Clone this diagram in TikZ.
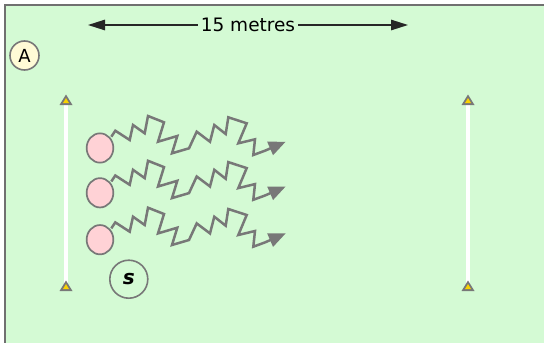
\documentclass[tikz,border=0pt]{standalone}
\usepackage{fontspec}
\setmainfont{DejaVu Sans}
\usetikzlibrary{arrows.meta,shapes.geometric}
\definecolor{field}{RGB}{212,250,212}
\definecolor{frame}{RGB}{112,112,112}
\definecolor{zgray}{RGB}{120,120,120}
\definecolor{pinkball}{RGB}{255,210,214}
\definecolor{cream}{RGB}{255,251,214}
\definecolor{coneyellow}{RGB}{250,210,0}
\tikzset{
  zig/.style={draw=zgray, line width=2.5pt, line join=miter, miter limit=3,
    -{Triangle[length=17pt,width=14pt]}},
  ball/.style={ellipse, draw=zgray, line width=1.7pt, fill=pinkball,
    minimum width=26.7pt, minimum height=29.3pt, inner sep=0pt},
  roundlab/.style={circle, draw=zgray, line width=1.6pt, inner sep=0pt},
  pole/.style={draw=white, line width=4pt},
  dim/.style={draw=black!85, line width=1.3pt,
    -{Triangle[length=17pt,width=10.5pt]}},
  cone/.pic={
    \fill[zgray] (0,-5.5) -- (-6.5,5) -- (6.5,5) -- cycle;
    \fill[coneyellow] (0,-2) -- (-3,3) -- (3,3) -- cycle;
  }
}
\begin{document}
\begin{tikzpicture}[x=1pt,y=-1pt]
\useasboundingbox (0,0) rectangle (544,343);
\fill[white] (0,0) rectangle (544,343);
\begin{scope}
\clip (0,0) rectangle (544,343);
\draw[frame, line width=2pt, fill=field] (5,5) rectangle (560,360);
\end{scope}

% dimension arrow
\node[inner sep=3pt, font=\fontsize{18.5}{20}\selectfont] (len) at (248,25) {15 metres};
\coordinate (ltip) at (88,25);
\coordinate (rtip) at (408,25);
\draw[dim] (len.west) -- (ltip);
\draw[dim] (len.east) -- (rtip);

% label A
\node[roundlab, fill=cream, minimum size=29pt, font=\fontsize{18}{20}\selectfont] (A) at (24.5,55.5) {A};

% poles
\coordinate (l1) at (66,100);
\coordinate (l2) at (66,286);
\coordinate (r1) at (468,100);
\coordinate (r2) at (468,286);
\draw[pole] (l1) -- (l2);
\draw[pole] (r1) -- (r2);
\foreach \c in {l1,l2,r1,r2} \pic at (\c) {cone};

% players
\node[ball] (p1) at (100,148) {};
\node[ball] (p2) at (100,192.8) {};
\node[ball] (p3) at (100,239.7) {};

\foreach \n in {p1,p2,p3}
  \draw[zig, shift={(\n.center)}] (11.3,-11.3) -- (15.3,-17.3) -- (29.7,-8) -- (33,-23)
    -- (44.7,-14.7) -- (48,-32) -- (64,-25.7) -- (58,-6.3) -- (77.3,-12) -- (72,5.3)
    -- (89,0.3) -- (96.7,-16.3) -- (110,-6.3) -- (114.3,-23) -- (125.7,-14)
    -- (128.3,-30.7) -- (146.7,-24.7) -- (138.3,-4.7) -- (155,-8.7) -- (153.3,7)
    -- (165,2.7) -- (185.7,-6.3);

% S
\node[roundlab, minimum size=38pt, font=\fontsize{20}{22}\selectfont\bfseries\itshape] (S) at (128.8,279.2) {s};
\end{tikzpicture}
\end{document}
